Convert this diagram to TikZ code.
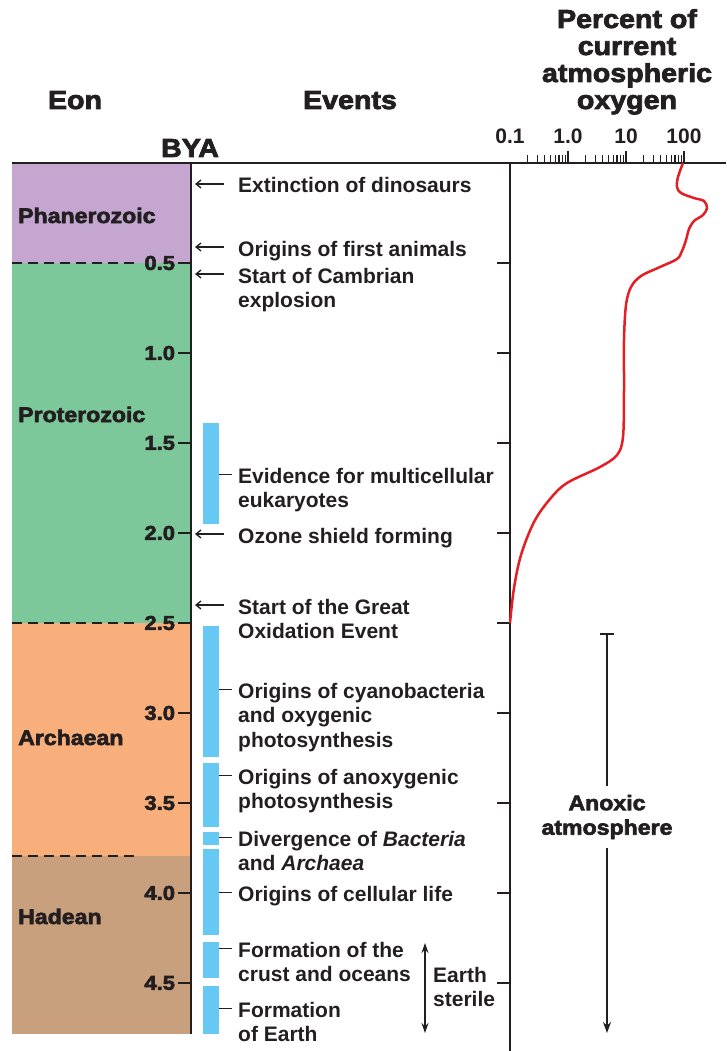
\documentclass[tikz,border=0pt]{standalone}
\usepackage{fontspec}
\setmainfont{Liberation Sans}
\newfontfamily\heavyfont{Liberation Sans}[BoldFeatures={FakeStretch=1.1,FakeBold=3}]
\usetikzlibrary{arrows.meta}
\definecolor{ink}{HTML}{231F20}
\definecolor{phanero}{HTML}{C4A6D0}
\definecolor{protero}{HTML}{7CC89A}
\definecolor{archae}{HTML}{F9AF7C}
\definecolor{hadeanc}{HTML}{C9A07E}
\definecolor{barblue}{HTML}{66C9F3}
\definecolor{oxred}{HTML}{E31E24}

\begin{document}
\begin{tikzpicture}[x=1pt,y=-1pt,ink,
  event/.style={anchor=base west,align=left,inner sep=0pt,text=ink,
    font=\fontsize{21}{24.5}\selectfont\bfseries},
  header/.style={anchor=base,align=center,inner sep=0pt,text=ink,
    font=\fontsize{26}{27}\selectfont\heavyfont\bfseries},
  eonname/.style={anchor=base west,inner sep=0pt,text=ink,
    font=\fontsize{21}{24}\selectfont\heavyfont\bfseries},
  numlabel/.style={anchor=east,inner sep=2pt,text=ink,
    font=\fontsize{20}{24}\selectfont\heavyfont\bfseries},
  scalelabel/.style={anchor=base,inner sep=0pt,text=ink,
    font=\fontsize{21}{24}\selectfont\bfseries},
  axis/.style={line width=2.5pt},
  tick/.style={line width=2pt},
  eondash/.style={line width=2pt,dash pattern=on 10pt off 6pt},
  pointer/.style={line width=1.3pt,-{Straight Barb[length=5pt,width=8pt]},
    shorten <=14pt,shorten >=4pt},
  bartick/.style={line width=1.2pt,shorten <=6pt},
  bluebar/.style={fill=barblue},
  oxcurve/.style={oxred,line width=2.5pt}]

\useasboundingbox (0,0) rectangle (726,1051);

% eon bands
\fill[phanero] (12,163) rectangle (191,263);
\fill[protero] (12,263) rectangle (191,623);
\fill[archae]  (12,623) rectangle (191,856);
\fill[hadeanc] (12,856) rectangle (191,1034);
\draw[eondash] (12,263) -- (140,263);
\draw[eondash] (12,623) -- (140,623);
\draw[eondash] (12,856) -- (140,856);

% axes
\coordinate (axtop) at (191,163);
\coordinate (axbot) at (191,1034);
\coordinate (oxtop) at (510,163);
\coordinate (oxbot) at (510,1051);
\draw[line width=2pt] (12,163) -- (726,163);
\draw[axis] (axtop) -- (axbot);
\draw[axis] (oxtop) -- (oxbot);

\foreach \t in {0.5,1.0,1.5,2.0,2.5,3.0,3.5,4.0,4.5} {
  \pgfmathsetmacro\yy{173+180*\t}
  \draw[tick] (191,\yy) -- ++(-13,0) node[numlabel] {\t};
  \draw[tick] (510,\yy) -- ++(-13,0);
}

% log scale
\foreach \d in {0,1,2}
  \foreach \k in {2,...,9}
    \draw[line width=1.1pt] ({510+58*(\d+log10(\k))},155) -- ++(0,8);
\foreach \d in {1,2,3}
  \draw[line width=1.8pt] ({510+58*\d},151) -- ++(0,12);

\begin{scope}[every node/.style={scalelabel}]
  \node (s0) at (510,144) {0.1};
  \node (s1) at (568,144) {1.0};
  \node (s2) at (626,144) {10};
  \node (s3) at (684,144) {100};
\end{scope}

% headers (base = last line)
\begin{scope}[every node/.style={header}]
  \node (eon)    at (75,109)  {Eon};
  \node (events) at (350,109) {Events};
  \node (pct)    at (627,109) {Percent of\\current\\atmospheric\\oxygen};
  \node (bya)    at (190,157) {BYA};
\end{scope}

\begin{scope}[every node/.style={eonname}]
  \node (phan) at (18,223) {Phanerozoic};
  \node (prot) at (18,422) {Proterozoic};
  \node (arch) at (18,745) {Archaean};
  \node (hade) at (18,924) {Hadean};
\end{scope}

% blue bars
\fill[bluebar] (203,423) rectangle (219,524);
\fill[bluebar] (203,626) rectangle (219,757);
\fill[bluebar] (203,763) rectangle (219,827);
\fill[bluebar] (203,832) rectangle (219,845);
\fill[bluebar] (203,849) rectangle (219,935);
\fill[bluebar] (203,942) rectangle (219,978);
\fill[bluebar] (203,986) rectangle (219,1034);

% events (base = last line)
\begin{scope}[every node/.style={event}]
  \node (dino)      at (238,193)    {Extinction of dinosaurs};
  \node (animals)   at (238,256)    {Origins of first animals};
  \node (cambrian)  at (238,307.5)  {Start of Cambrian\\explosion};
  \node (multicell) at (238,507.5)  {Evidence for multicellular\\eukaryotes};
  \node (ozone)     at (238,543)    {Ozone shield forming};
  \node (goe)       at (238,638.5)  {Start of the Great\\Oxidation Event};
  \node (cyano)     at (238,747)    {Origins of cyanobacteria\\and oxygenic\\photosynthesis};
  \node (anoxy)     at (238,808.5)  {Origins of anoxygenic\\photosynthesis};
  \node (diverge)   at (238,870.5)  {Divergence of \textit{Bacteria}\\and \textit{Archaea}};
  \node (cellular)  at (238,901)    {Origins of cellular life};
  \node (crust)     at (238,981.5)  {Formation of the\\crust and oceans};
  \node (earth)     at (238,1041.5) {Formation\\of Earth};
  \node (sterile)   at (433,1006.5) {Earth\\sterile};
\end{scope}

\foreach \e/\n in {dino/0,animals/0,cambrian/1,ozone/0,goe/1}
  \draw[pointer] ([yshift={9pt+\n*24.5pt}]\e.base west)
    -- ([yshift={9pt+\n*24.5pt}]\e.base west -| axtop);
\foreach \e/\n in {multicell/1,cyano/2,anoxy/1,diverge/1,cellular/0,crust/1,earth/1}
  \draw[bartick] ([yshift={8.5pt+\n*24.5pt}]\e.base west) -- ++(-19,0);

% earth sterile span
\coordinate (stertop) at (425,943);
\coordinate (sterbot) at (425,1033);
\draw[line width=1.5pt,{Stealth[length=10pt,width=7pt]}-{Stealth[length=10pt,width=7pt]}] (stertop) -- (sterbot);

% anoxic span
\node[header,anchor=center,inner ysep=9pt,font=\fontsize{21}{24.5}\selectfont\heavyfont\bfseries]
  (anoxic) at (607,817) {Anoxic\\atmosphere};
\coordinate (anoxtop) at (607,633);
\coordinate (anoxbot) at (607,1033);
\draw[line width=1.8pt,{Bar[width=14pt]}-] (anoxtop) -- (anoxic.north);
\draw[line width=1.8pt,-{Stealth[length=11pt,width=8pt]}] (anoxic.south) -- (anoxbot);

% oxygen curve
\draw[oxcurve] plot[smooth,tension=0.55] coordinates {
  (683,163) (678,177) (677,187) (681,193) (694,198) (704,201) (707,208)
  (703,215) (694,221) (689,229) (686,240) (682,251) (677,259) (660,267)
  (641,276) (631,287) (626,305) (624,340) (624,390) (623,437) (617,455)
  (600,467) (567,483) (550,499) (534,522) (521,555) (514,588) (510,623)};

\end{tikzpicture}
\end{document}
